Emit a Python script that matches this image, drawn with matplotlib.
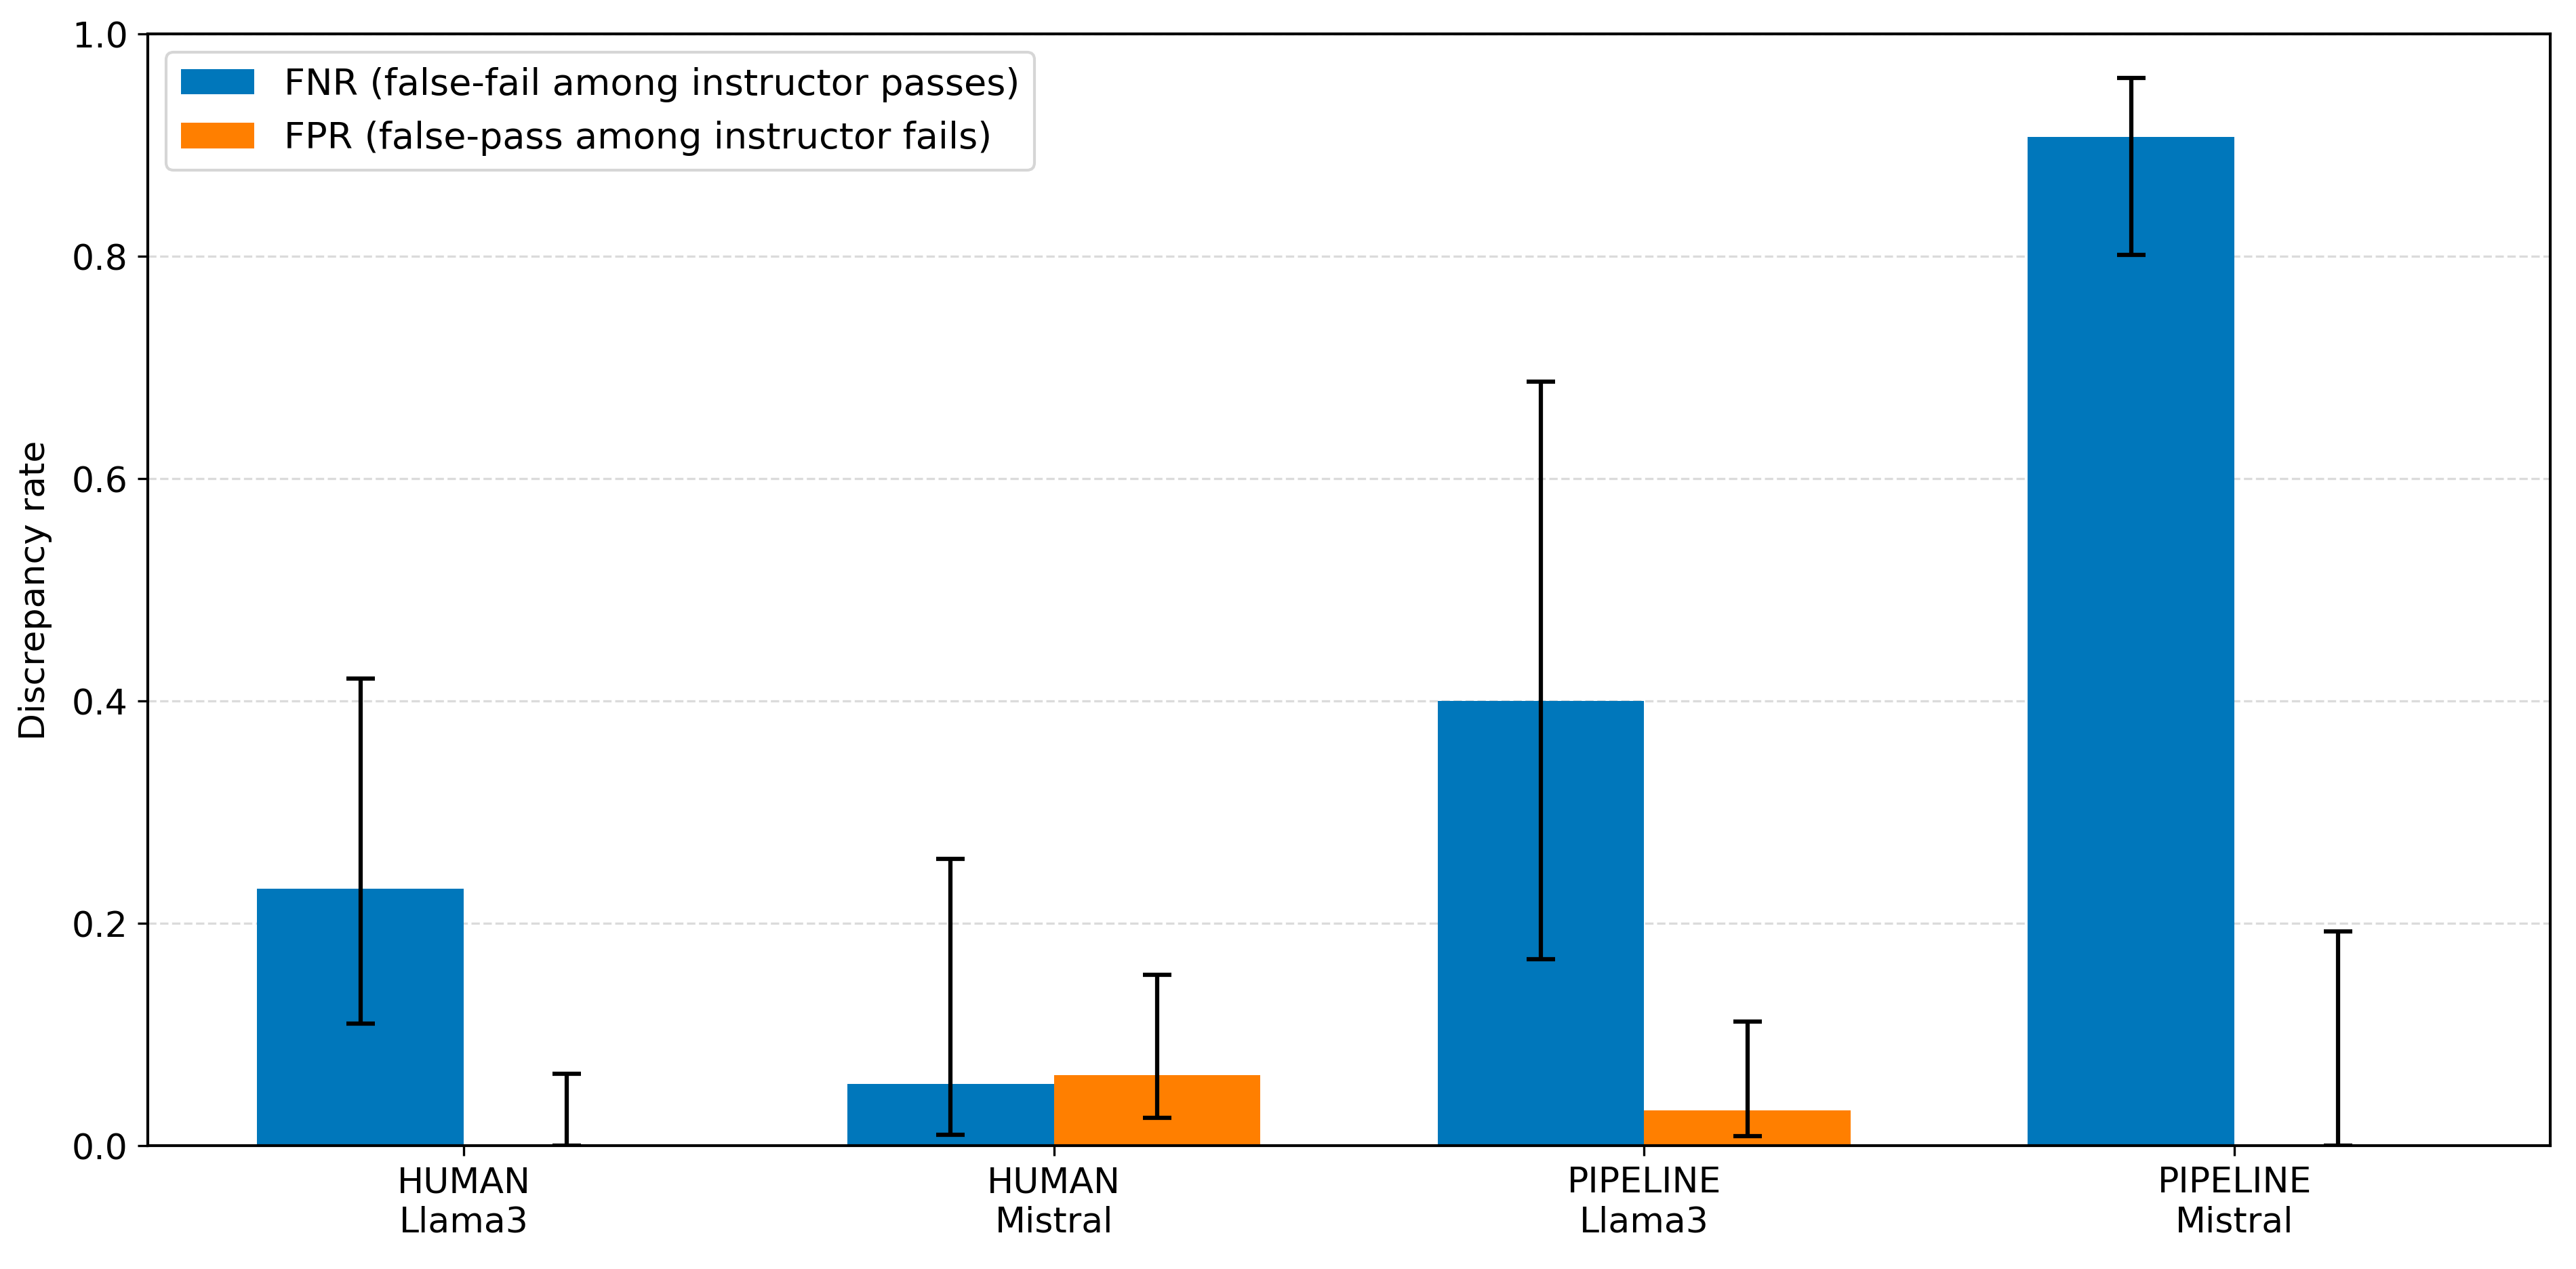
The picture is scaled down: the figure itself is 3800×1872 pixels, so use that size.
import matplotlib
matplotlib.use("Agg")
import matplotlib.pyplot as plt
import numpy as np

# groups and rates
groups = ["HUMAN\nLlama3", "HUMAN\nMistral", "PIPELINE\nLlama3", "PIPELINE\nMistral"]
fnr = [0.231, 0.0556, 0.400, 0.907]
fnr_lo = [0.110, 0.010, 0.168, 0.801]
fnr_hi = [0.420, 0.258, 0.687, 0.960]
fpr = [0.0, 0.0635, 0.032, 0.0]
fpr_lo = [0.0, 0.025, 0.009, 0.0]
fpr_hi = [0.065, 0.154, 0.112, 0.193]

x = np.arange(len(groups))
w = 0.35
fs = 12.5

fig, ax = plt.subplots(figsize=(12.667, 6.243), dpi=300)
fig.subplots_adjust(left=0.0574, right=0.990, top=0.973, bottom=0.097)

fnr_err = [np.array(fnr) - np.array(fnr_lo), np.array(fnr_hi) - np.array(fnr)]
fpr_err = [np.array(fpr) - np.array(fpr_lo), np.array(fpr_hi) - np.array(fpr)]

ekw = dict(elinewidth=1.5, capthick=1.5, ecolor="black")
ax.bar(x - w / 2, fnr, w, color="#0077bb", yerr=fnr_err, capsize=5,
       error_kw=ekw, label="FNR (false-fail among instructor passes)", zorder=2)
ax.bar(x + w / 2, fpr, w, color="#ff7f00", yerr=fpr_err, capsize=5,
       error_kw=ekw, label="FPR (false-pass among instructor fails)", zorder=2)

ax.set_xticks(x)
ax.set_xticklabels(groups, fontsize=fs)
ax.set_ylim(0, 1.0)
ax.set_yticks(np.arange(0, 1.01, 0.2))
ax.tick_params(axis="y", labelsize=fs)
ax.set_ylabel("Discrepancy rate", fontsize=fs, labelpad=7)
ax.grid(axis="y", linestyle="--", color="#cccccc", alpha=0.7, zorder=0)
ax.set_axisbelow(True)
for s in ax.spines.values():
    s.set_linewidth(1.0)
    s.set_zorder(3)
ax.legend(loc="upper left", fontsize=13)

fig.savefig("out.png", dpi=300)
